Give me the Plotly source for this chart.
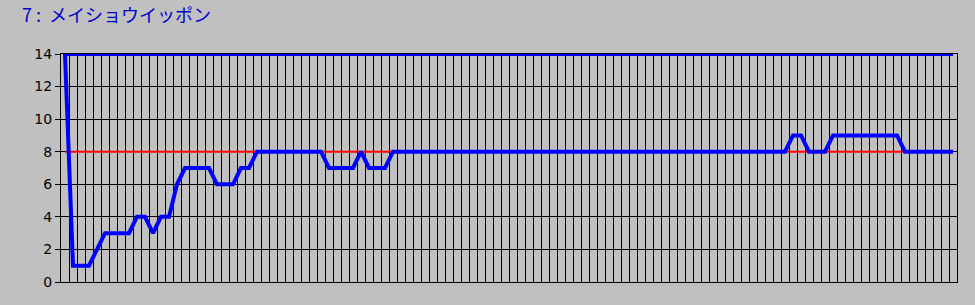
import plotly.graph_objects as go

title_text = "7\u00a0:\u00a0\u00a0メイショウイッポン"

# race positions (one per category step)
categories = list(range(112))
positions = [
    14, 1, 1, 1, 2, 3, 3, 3, 3, 4,
    4, 3, 4, 4, 6, 7, 7, 7, 7, 6,
    6, 6, 7, 7, 8, 8, 8, 8, 8, 8,
    8, 8, 8, 7, 7, 7, 7, 8, 7, 7,
    7, 8, 8, 8, 8, 8, 8, 8, 8, 8,
    8, 8, 8, 8, 8, 8, 8, 8, 8, 8,
    8, 8, 8, 8, 8, 8, 8, 8, 8, 8,
    8, 8, 8, 8, 8, 8, 8, 8, 8, 8,
    8, 8, 8, 8, 8, 8, 8, 8, 8, 8,
    8, 9, 9, 8, 8, 8, 9, 9, 9, 9,
    9, 9, 9, 9, 9, 8, 8, 8, 8, 8,
    8, 8,
]
reference_level = 8
top_level = 14
y_ticks = [0, 2, 4, 6, 8, 10, 12, 14]

BG = "#C0C0C0"
BLUE = "#0000FF"
RED = "#FF0000"

fig = go.Figure()

# red reference line
fig.add_trace(go.Scatter(
    x=[categories[0], categories[-1]], y=[reference_level, reference_level],
    mode="lines", line=dict(color=RED, width=2), hoverinfo="skip", showlegend=False,
))
# blue top line
fig.add_trace(go.Scatter(
    x=[categories[0], categories[-1]], y=[top_level, top_level],
    mode="lines", line=dict(color=BLUE, width=4), hoverinfo="skip", showlegend=False,
))
# main series
fig.add_trace(go.Scatter(
    x=categories, y=positions, mode="lines",
    line=dict(color=BLUE, width=4), showlegend=False,
))

grid_positions = [c - 0.5 for c in categories] + [categories[-1] + 0.5]

fig.update_layout(
    width=975, height=305,
    margin=dict(l=61, r=18, t=54, b=23),
    paper_bgcolor=BG, plot_bgcolor=BG,
    title=dict(
        text=title_text, x=22 / 975, xanchor="left", y=1 - 16 / 305, yanchor="middle",
        font=dict(family="Noto Sans CJK JP", size=18, color="#0000CC"),
    ),
    xaxis=dict(
        range=[categories[0] - 0.5, categories[-1] + 0.5],
        tickvals=grid_positions, showticklabels=False, ticks="",
        showgrid=True, gridcolor="black", gridwidth=1, zeroline=False,
        showline=True, linecolor="black", linewidth=1, mirror=True,
    ),
    yaxis=dict(
        range=[0, 14], tickvals=y_ticks, ticks="outside", ticklen=5,
        tickcolor="black", tickwidth=1,
        tickfont=dict(family="DejaVu Sans", size=14, color="black"),
        showgrid=True, gridcolor="black", gridwidth=1, zeroline=False,
        showline=True, linecolor="black", linewidth=1, mirror=True,
    ),
)

fig.write_html("out.html")
